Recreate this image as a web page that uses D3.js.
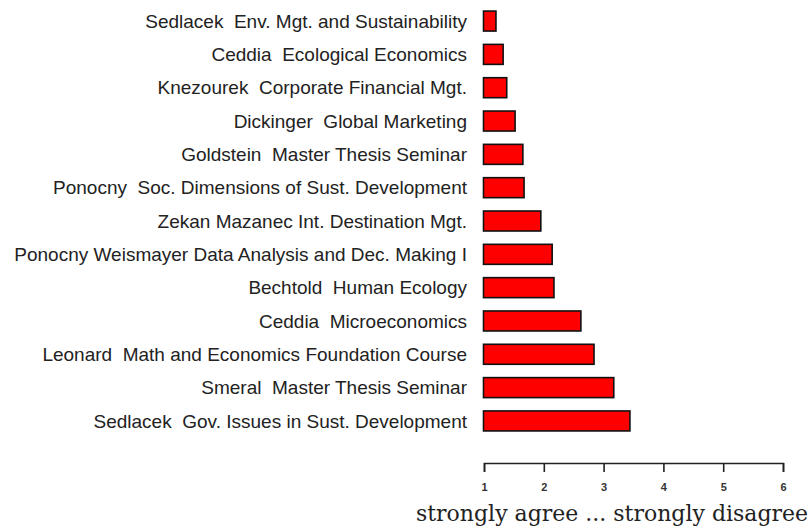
<!DOCTYPE html>
<html><head><meta charset="utf-8">
<script src="https://cdn.jsdelivr.net/npm/d3@7"></script>
<style>body{margin:0;background:#fff} text{white-space:pre}</style>
</head><body>
<svg id="c" width="812" height="529"></svg>
<script>
const categories = [
  "Sedlacek  Env. Mgt. and Sustainability",
  "Ceddia  Ecological Economics",
  "Knezourek  Corporate Financial Mgt.",
  "Dickinger  Global Marketing",
  "Goldstein  Master Thesis Seminar",
  "Ponocny  Soc. Dimensions of Sust. Development",
  "Zekan Mazanec Int. Destination Mgt.",
  "Ponocny Weismayer Data Analysis and Dec. Making I",
  "Bechtold  Human Ecology",
  "Ceddia  Microeconomics",
  "Leonard  Math and Economics Foundation Course",
  "Smeral  Master Thesis Seminar",
  "Sedlacek  Gov. Issues in Sust. Development"
];
const values = [1.20, 1.32, 1.38, 1.52, 1.65, 1.67, 1.95, 2.14, 2.17, 2.62, 2.84, 3.17, 3.44];
const tickValues = [1, 2, 3, 4, 5, 6];
const axisTitle = "strongly agree ... strongly disagree";

const svg = d3.select("#c");
const x = d3.scaleLinear().domain([1, 6]).range([484, 783]);
const y = d3.scaleBand().domain(categories).range([4.4, 437.6]).paddingInner(0.4).paddingOuter(0.2);

svg.append("g").selectAll("rect").data(categories).join("rect")
  .attr("x", x(1) - 0.5)
  .attr("y", d => y(d))
  .attr("width", (d, i) => x(values[i]) - x(1) + 0.5)
  .attr("height", y.bandwidth())
  .attr("fill", "#ff0000")
  .attr("stroke", "#111")
  .attr("stroke-width", 1.6);

svg.append("g").selectAll("text").data(categories).join("text")
  .attr("x", 467)
  .attr("y", d => y(d) + y.bandwidth() / 2)
  .attr("dy", "0.35em")
  .attr("text-anchor", "end")
  .attr("xml:space", "preserve")
  .attr("font-family", "Liberation Sans, Arial, sans-serif")
  .attr("font-size", 19)
  .attr("fill", "#222")
  .text(d => d);

const ax = svg.append("g").attr("transform", "translate(0,463)")
  .call(d3.axisBottom(x).tickValues(tickValues).tickSize(9).tickPadding(11).tickFormat(d3.format("d")));
ax.select(".domain").attr("stroke", "#222").attr("stroke-width", 1.6);
ax.selectAll(".tick line").attr("stroke", "#222").attr("stroke-width", 1.6);
ax.selectAll(".tick text").attr("font-family", "Liberation Sans, Arial, sans-serif")
  .attr("font-size", 11).attr("font-weight", "bold").attr("fill", "#333");

svg.append("text")
  .attr("x", 612).attr("y", 521)
  .attr("text-anchor", "middle")
  .attr("font-family", "DejaVu Serif, Liberation Serif, serif")
  .attr("font-size", 22)
  .attr("fill", "#222")
  .text(axisTitle);
</script>
</body></html>
